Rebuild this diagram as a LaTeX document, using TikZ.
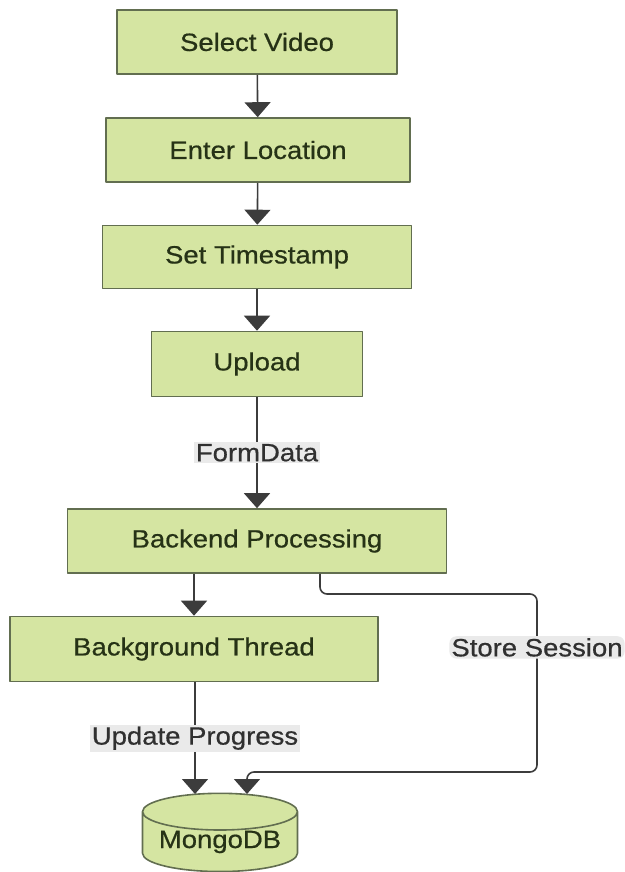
\documentclass[tikz,border=0pt]{standalone}
\usepackage{fontspec}
\setmainfont[FakeStretch=1.1,FakeBold=0.6]{Liberation Sans}
\usetikzlibrary{arrows.meta,shapes.geometric}

\definecolor{boxfill}{RGB}{213,229,162}
\definecolor{boxline}{RGB}{98,110,80}
\definecolor{boxtext}{RGB}{38,50,22}
\definecolor{lblfill}{RGB}{234,234,234}
\definecolor{lnk}{RGB}{60,60,60}

\tikzset{
  stepbox/.style={draw=boxline,fill=boxfill,line width=1.6pt,inner sep=0pt,
    text=boxtext,font=\fontsize{25}{30}\selectfont},
  dbnode/.style={stepbox,cylinder,shape border rotate=90,aspect=0.3,
    minimum width=155pt,minimum height=78pt},
  lbl/.style={fill=lblfill,text=lnk!80!black,inner sep=2pt,
    font=\fontsize{25}{30}\selectfont},
  arr/.style={draw=lnk,line width=1.6pt,-{Triangle[width=26pt,length=15pt]}},
}

\begin{document}
\begin{tikzpicture}[x=1pt,y=-1pt,line join=round]
  \useasboundingbox (0,0) rectangle (624,872);
  % steps
  \node[stepbox,minimum width=280pt,minimum height=64pt] (select) at (257,42) {Select Video};
  \node[stepbox,minimum width=304pt,minimum height=64pt] (enterloc) at (258,150) {Enter Location};
  \node[stepbox,minimum width=309pt,minimum height=63pt] (settime) at (257,257) {Set Timestamp};
  \node[stepbox,minimum width=211pt,minimum height=65pt] (upload) at (257,364) {Upload};
  \node[stepbox,minimum width=379pt,minimum height=64pt] (backend) at (257,541) {Backend Processing};
  \node[stepbox,minimum width=368pt,minimum height=65pt] (bgthread) at (194,649) {Background Thread};
  \node[dbnode] (mongo) at (220,842) {MongoDB};
  % ends of the two links into the database
  \coordinate (progressend) at (195,794);
  \coordinate (storeend) at (247,794);
  % turning points of the session link
  \coordinate (storea) at (320,594);
  \coordinate (storeb) at (537,594);
  \coordinate (storec) at (537,772);
  \coordinate (stored) at (247,772);
  % links
  \draw[arr] (select) -- (enterloc);
  \draw[arr] (enterloc) -- (settime);
  \draw[arr] (settime) -- (upload);
  \draw[arr] (upload) -- node[lbl] (formlbl) {FormData} (backend);
  \draw[arr] (backend.south -| bgthread) -- (bgthread);
  \draw[arr] (bgthread.south -| progressend) -- node[lbl] (progresslbl) {Update Progress} (progressend);
  \draw[arr,rounded corners=7pt] (backend.south -| storea) -- (storea) -- (storeb)
    -- node[lbl,pos=0.3] (storelbl) {Store Session} (storec) -- (stored) -- (storeend);
\end{tikzpicture}
\end{document}
